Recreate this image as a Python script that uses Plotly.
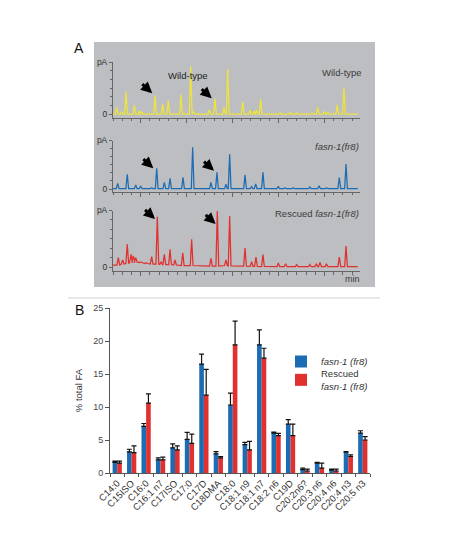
import plotly.graph_objects as go

W, H = 450, 552
def fx(x): return x / W
def fy(y): return 1 - y / H

FONT = "Arial, Liberation Sans, sans-serif"

# ---------------- Panel A: chromatogram peaks (retention time, height, local baseline)
wt_t = [0.40, 0.95, 1.41, 2.32, 2.86, 3.08, 4.57, 5.40, 6.01, 7.39, 8.45, 8.74, 10.47, 11.09, 12.07, 12.47,
        14.10, 14.89, 15.33, 15.60, 16.05, 17.39, 18.15, 19.24, 19.97, 21.66, 22.25, 22.97, 23.34, 24.38, 25.10]
wt_h = [7.0, 2.7, 22.7, 9.3, 3.3, 2.7, 18.7, 10.3, 13.7, 20.0, 47.7, 2.7, 4.3, 16.0, 7.0, 45.5,
        12.5, 4.0, 3.3, 4.0, 15.3, 1.0, 1.3, 1.7, 1.3, 1.0, 7.2, 2.7, 1.7, 9.5, 26.8]

mut_t = [0.51, 1.55, 2.47, 3.01, 4.20, 4.75, 5.58, 6.20, 7.61, 8.66, 10.65, 11.30, 12.28, 12.68,
         14.35, 15.07, 15.51, 16.30, 17.97, 18.70, 19.60, 21.40, 22.40, 23.20, 24.60, 25.33]
mut_h = [5.7, 14.7, 4.0, 3.0, 1.3, 20.7, 6.7, 10.7, 11.7, 41.7, 6.7, 16.7, 4.7, 34.7,
         14.2, 2.3, 5.0, 16.8, 2.7, 1.3, 1.3, 2.0, 3.3, 1.3, 11.5, 25.0]

res_t = [0.58, 1.05, 1.55, 1.96, 2.21, 2.47, 3.00, 3.60, 4.20, 4.82, 5.22, 5.58, 6.20, 6.74, 7.58, 8.55,
         10.65, 11.34, 12.28, 12.68, 14.35, 15.07, 15.54, 16.30, 17.97, 18.77, 19.97, 21.40, 22.10, 22.50,
         23.20, 24.60, 25.33]
res_h = [9.3, 7.0, 22.6, 12.6, 11.0, 9.3, 5.0, 4.2, 10.3, 50.3, 5.3, 12.6, 17.6, 7.0, 14.3, 27.6,
         8.6, 56.0, 7.0, 51.0, 19.0, 5.3, 10.0, 12.5, 4.0, 3.3, 2.3, 2.6, 3.3, 4.6,
         3.3, 10.0, 21.0]
res_b = [2.0, 3.0, 3.5, 4.5, 5.0, 5.0, 4.5, 3.5, 3.0, 3.0, 2.5, 2.5, 2.5, 2.0, 1.5, 1.5,
         1.0, 1.0, 1.5, 1.0, 0.8, 0.7, 0.7, 0.5, 0.3, 0.3, 0.3, 0.3, 0.3, 0.3,
         0.3, 0.3, 0.3]

T_END = 26.6
HALF = 0.15

def chrom(ts, hs, bs=None):
    if bs is None:
        bs = [0.3] * len(ts)
    xs, ys = [0.0], [bs[0]]
    for t, h, b in zip(ts, hs, bs):
        xs += [t - HALF, t, t + HALF]
        ys += [b, h, b]
    xs.append(T_END)
    ys.append(bs[-1])
    return xs, ys

# ---------------- Panel B: fatty acid composition
fa = ["C14:0", "C15ISO", "C16:0", "C16:1 n7", "C17ISO", "C17:0", "C17D", "C18DMA", "C18:0",
      "C18:1 n9", "C18:1 n7", "C18:2 n6", "C19D", "C20:2n6?", "C20:3 n6", "C20:4 n6",
      "C20:4 n3", "C20:5 n3"]
fasn = [1.6, 3.2, 7.05, 2.0, 3.8, 5.1, 16.5, 2.9, 10.3, 4.3, 19.4, 6.05, 7.4, 0.5, 1.5, 0.45, 3.15, 6.05]
fasn_err = [0.2, 0.4, 0.45, 0.3, 0.6, 1.05, 1.5, 0.35, 1.8, 0.35, 2.3, 0.15, 0.7, 0.25, 0.1, 0.15, 0.08, 0.35]
resc = [1.5, 3.1, 10.6, 2.0, 3.5, 4.5, 11.8, 2.3, 19.4, 3.5, 17.4, 5.65, 5.65, 0.3, 0.75, 0.3, 2.5, 5.0]
resc_err = [0.3, 1.0, 1.4, 0.4, 0.6, 1.4, 3.9, 0.2, 3.6, 1.3, 1.5, 0.35, 1.75, 0.3, 0.75, 0.3, 0.25, 0.5]

YEL, BLU, RED = "#eee43c", "#1c6cb4", "#e1302d"

fig = go.Figure()

panels = [
    dict(ax="", ts=wt_t, hs=wt_h, bs=None, col=YEL, top=62.3, zero=114.3, bot=117.5),
    dict(ax="2", ts=mut_t, hs=mut_h, bs=None, col=BLU, top=140.5, zero=189.0, bot=191.7),
    dict(ax="3", ts=res_t, hs=res_h, bs=res_b, col=RED, top=210.5, zero=267.0, bot=271.0),
]
for p in panels:
    xs, ys = chrom(p["ts"], p["hs"], p["bs"])
    fig.add_trace(go.Scatter(x=xs, y=ys, mode="lines", line=dict(color=p["col"], width=1.25),
                             xaxis="x" + p["ax"], yaxis="y" + p["ax"], showlegend=False,
                             hoverinfo="skip"))

AXC = "#666666"
for p in panels:
    topv = p["zero"] - p["top"]
    fig.update_layout(**{
        "xaxis" + p["ax"]: dict(domain=[fx(113), fx(360)], range=[0, 26.85], anchor="y" + p["ax"],
                                showline=True, linecolor=AXC, linewidth=1, ticks="outside", ticklen=4,
                                tickcolor=AXC, tick0=3, dtick=5, showticklabels=False, showgrid=False,
                                zeroline=False, automargin=False,
                                minor=dict(ticks="outside", dtick=1, ticklen=2.5, tickcolor=AXC)),
        "yaxis" + p["ax"]: dict(domain=[fy(p["bot"]), fy(p["top"])],
                                range=[-(p["bot"] - p["zero"]), topv], anchor="x" + p["ax"],
                                showline=True, linecolor=AXC, linewidth=1, ticks="outside", ticklen=3,
                                tickcolor=AXC, tickmode="array", tickvals=[0, topv], ticktext=["0", "pA"],
                                tickfont=dict(size=8.5, color="#333", family=FONT), showgrid=False,
                                zeroline=False, automargin=False,
                                minor=dict(ticks="outside", tick0=0, dtick=topv / 6, ticklen=2,
                                           tickcolor=AXC)),
    })

fig.add_trace(go.Bar(x=fa, y=fasn, name="fasn", marker=dict(color=BLU, line=dict(width=0)),
                     error_y=dict(type="data", symmetric=False, array=fasn_err,
                                  arrayminus=[0] * len(fa), color="#111", thickness=1.2, width=2.5),
                     xaxis="x4", yaxis="y4", showlegend=False))
fig.add_trace(go.Bar(x=fa, y=resc, name="resc", marker=dict(color=RED, line=dict(width=0)),
                     error_y=dict(type="data", symmetric=False, array=resc_err,
                                  arrayminus=[0] * len(fa), color="#111", thickness=1.2, width=2.5),
                     xaxis="x4", yaxis="y4", showlegend=False))
fig.add_trace(go.Scatter(x=[None], y=[None], mode="markers", name="<i>fasn-1 (fr8)</i>",
                         marker=dict(symbol="square", size=6, color=BLU), xaxis="x4", yaxis="y4",
                         legend="legend"))
fig.add_trace(go.Scatter(x=[None], y=[None], mode="markers", name="Rescued<br><i>fasn-1 (fr8)</i>",
                         marker=dict(symbol="square", size=6, color=RED), xaxis="x4", yaxis="y4",
                         legend="legend2"))

fig.update_layout(
    xaxis4=dict(domain=[fx(110), fx(370)], anchor="y4", type="category", categoryorder="array",
                categoryarray=fa, showline=True, linecolor="#555", linewidth=1, ticks="outside",
                tickson="boundaries", ticklen=3, tickcolor="#555", tickangle=-45, automargin=False,
                tickfont=dict(size=9.5, color="#333", family=FONT), showgrid=False, zeroline=False),
    yaxis4=dict(domain=[fy(473), fy(308)], anchor="x4", range=[0, 25], dtick=5, showline=True,
                linecolor="#555", linewidth=1, ticks="outside", ticklen=4, tickcolor="#555",
                tickfont=dict(size=9, color="#444", family=FONT), showgrid=False, zeroline=False,
                automargin=False,
                title=dict(text="% total FA", font=dict(size=9.5, color="#333", family=FONT),
                           standoff=8)),
    barmode="group", bargap=0.36, bargroupgap=0,
)

shapes = [
    dict(type="rect", xref="paper", yref="paper", x0=fx(94), x1=fx(375), y0=fy(287), y1=fy(42),
         fillcolor="#bdbec1", line=dict(width=0), layer="below"),
    dict(type="line", xref="paper", yref="paper", x0=fx(68), x1=fx(380), y0=fy(298), y1=fy(298),
         line=dict(color="#d2d2d2", width=1)),
]

ann = []
def txt(x, y, s, size=9.5, color="#3a3a3a", xanchor="right"):
    ann.append(dict(xref="paper", yref="paper", x=fx(x), y=fy(y), text=s, showarrow=False,
                    xanchor=xanchor, yanchor="middle",
                    font=dict(size=size, color=color, family=FONT)))

txt(79, 48, "A", size=14, color="#111", xanchor="center")
txt(79, 310, "B", size=14, color="#111", xanchor="center")
txt(364, 72, "Wild-type")
txt(187.5, 76, "Wild-type", color="#222", xanchor="center")
txt(361, 147, "<i>fasn-1(fr8)</i>")
txt(361, 214, "Rescued <i>fasn-1(fr8)</i>")
txt(362, 279, "min", size=9)

arrow_t = [[4.27, 10.73], [4.38, 10.98], [4.57, 11.16]]
arrow_h = [[21.0, 16.0], [20.7, 18.3], [48.0, 43.0]]
for p, ats, ahs in zip(panels, arrow_t, arrow_h):
    for at, ah in zip(ats, ahs):
        ann.append(dict(xref="x" + p["ax"], yref="y" + p["ax"], x=at, y=ah, ax=-11.5, ay=-10.5,
                        axref="pixel", ayref="pixel", text="", showarrow=True, arrowhead=2,
                        arrowsize=0.75, arrowwidth=3, arrowcolor="#000", standoff=0))

LEG = dict(xanchor="left", yanchor="top", bgcolor="rgba(0,0,0,0)",
           font=dict(size=9.5, color="#333", family=FONT), itemsizing="constant")
fig.update_layout(
    width=W, height=H, margin=dict(l=0, r=0, t=0, b=0, pad=0, autoexpand=False),
    paper_bgcolor="white", plot_bgcolor="rgba(0,0,0,0)",
    font=dict(family=FONT, color="#333"),
    shapes=shapes, annotations=ann,
    legend=dict(x=fx(281), y=fy(347), **LEG),
    legend2=dict(x=fx(281), y=fy(361), **LEG),
)

fig.write_html("out.html", config={"displayModeBar": False},
               post_script="document.body.style.margin='0px';")
